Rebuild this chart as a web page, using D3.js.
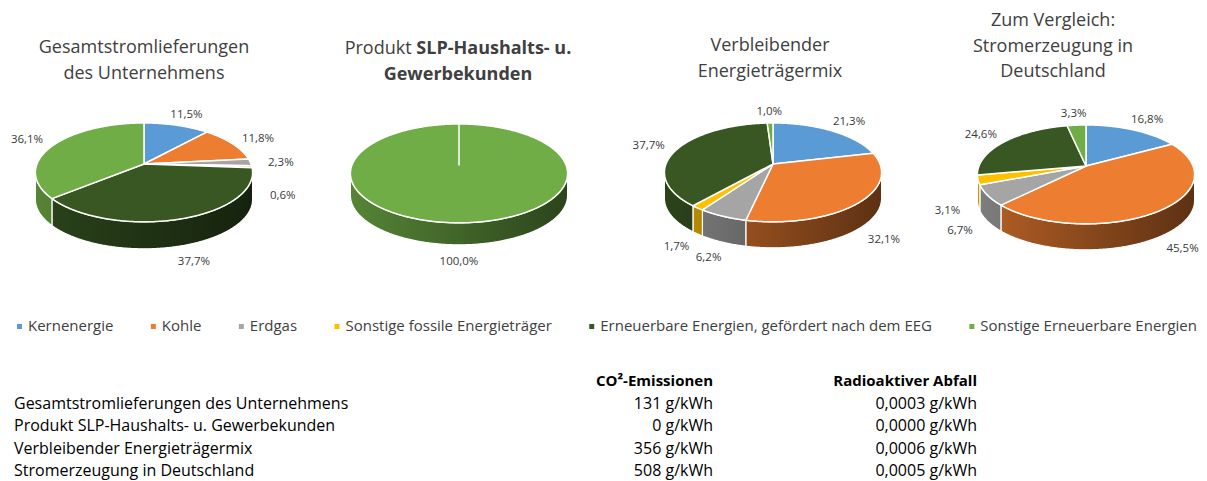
<!DOCTYPE html>
<html>
<head>
<meta charset="utf-8">
<script src="https://cdn.jsdelivr.net/npm/d3@7"></script>
<style>
  body { margin: 0; background: #fff; }
  text { font-family: "Open Sans", "Noto Sans", sans-serif; }
</style>
</head>
<body>
<svg id="chart" width="1207" height="481"></svg>
<script>
// categories + colours (Excel office palette)
var categories = ["Kernenergie", "Kohle", "Erdgas", "Sonstige fossile Energieträger",
                  "Erneuerbare Energien, gefördert nach dem EEG", "Sonstige Erneuerbare Energien"];
var catColors = ["#5B9BD5", "#ED7D31", "#A5A5A5", "#FFC000", "#385723", "#70AD47"];

// shares in percent, same order as categories
var gesamt      = [11.5, 11.8, 2.3, 0.6, 37.7, 36.1];
var slp         = [0, 0, 0, 0, 0, 100.0];
var verbleibend = [21.3, 32.1, 6.2, 1.7, 37.7, 1.0];
var deutschland = [16.8, 45.5, 6.7, 3.1, 24.6, 3.3];

var chartTitles = [
  [["Gesamtstromlieferungen"], ["des Unternehmens"]],
  [["Produkt ", "SLP-Haushalts- u."], ["", "Gewerbekunden"]],
  [["Verbleibender"], ["Energieträgermix"]],
  [["Zum Vergleich:"], ["Stromerzeugung in"], ["Deutschland"]]
];

// table
var tableHeader = ["CO²-Emissionen", "Radioaktiver Abfall"];
var tableRows = ["Gesamtstromlieferungen des Unternehmens", "Produkt SLP-Haushalts- u. Gewerbekunden",
                 "Verbleibender Energieträgermix", "Stromerzeugung in Deutschland"];
var co2 = ["131 g/kWh", "0 g/kWh", "356 g/kWh", "508 g/kWh"];
var abfall = ["0,0003 g/kWh", "0,0000 g/kWh", "0,0006 g/kWh", "0,0005 g/kWh"];

var series = [gesamt, slp, verbleibend, deutschland];

// layout of the four pies (not data)
var layout = [
  {cx: 144, cy: 164, depth: 27, titleX: 144, titleY: 53},
  {cx: 459, cy: 165, depth: 22, titleX: 458, titleY: 54},
  {cx: 773, cy: 164, depth: 26, titleX: 770, titleY: 51},
  {cx: 1086, cy: 166, depth: 26, titleX: 1053, titleY: 26}
];
var rx = 107, ry = 48, persp = 0.17;

var svg = d3.select("#chart");
var defs = svg.append("defs");
var fmt = function(v) { return d3.format(".1f")(v).replace(".", ",") + "%"; };

var pie = d3.pie().sort(null).value(function(d) { return d; });

// perspective projection of a point of the (unit) pie disc
function project(c, theta, r) {
  var u = r * Math.sin(theta), v = -r * Math.cos(theta);
  var f = 1 / (1 - persp * v);
  return [c.cx + rx * u * f, c.cy + ry * v * f, v];
}

var line = d3.line();
var wallStart = Math.acos(-persp), wallEnd = 2 * Math.PI - Math.acos(-persp);

function arcPoints(c, a0, a1, dy) {
  var n = Math.max(2, Math.ceil((a1 - a0) / 0.01));
  return d3.range(n + 1).map(function(i) {
    var p = project(c, a0 + (a1 - a0) * i / n, 1);
    return [p[0], p[1] + (dy || 0)];
  });
}

series.forEach(function(values, ci) {
  var c = layout[ci];
  var g = svg.append("g").attr("class", "pie3d");
  var arcs = pie(values);

  // gradients for the side walls
  catColors.forEach(function(col, k) {
    var grad = defs.append("linearGradient")
      .attr("id", "wall" + ci + "_" + k)
      .attr("gradientUnits", "userSpaceOnUse")
      .attr("x1", c.cx - rx).attr("x2", c.cx + rx).attr("y1", 0).attr("y2", 0);
    grad.append("stop").attr("offset", "0%").attr("stop-color", d3.color(col).darker(0.75));
    grad.append("stop").attr("offset", "100%").attr("stop-color", d3.color(col).darker(2.6));
  });

  // walls
  arcs.forEach(function(a, k) {
    if (a.value <= 0) return;
    var s = Math.max(a.startAngle, wallStart), e = Math.min(a.endAngle, wallEnd);
    if (e <= s) return;
    var top = arcPoints(c, s, e, 0);
    var bottom = arcPoints(c, s, e, c.depth).reverse();
    g.append("path")
      .attr("d", line(top.concat(bottom)) + "Z")
      .attr("fill", "url(#wall" + ci + "_" + k + ")")
      .attr("stroke", "#fff").attr("stroke-width", 1.2).attr("stroke-linejoin", "round");
  });

  // top faces
  arcs.forEach(function(a, k) {
    if (a.value <= 0) return;
    var pts = [[c.cx, c.cy]].concat(arcPoints(c, a.startAngle, a.endAngle, 0));
    g.append("path")
      .attr("d", line(pts) + "Z")
      .attr("fill", catColors[k])
      .attr("stroke", "#fff").attr("stroke-width", 1.5).attr("stroke-linejoin", "round");
  });

  // data labels
  arcs.forEach(function(a, k) {
    if (a.value <= 0) return;
    var m = (a.startAngle + a.endAngle) / 2;
    var p = project(c, m, 1.1);
    var x = p[0] + Math.sin(m) * 20;
    var y = p[1] - Math.cos(m) * 9 + 4;
    if (p[2] > 0) y += c.depth;
    g.append("text")
      .attr("x", x).attr("y", y)
      .attr("text-anchor", "middle")
      .attr("font-size", "11.5px")
      .attr("fill", "#3a3a3a")
      .text(fmt(a.value));
  });

  // title
  var t = svg.append("g").attr("class", "title");
  chartTitles[ci].forEach(function(parts, li) {
    var tx = t.append("text")
      .attr("x", c.titleX).attr("y", c.titleY + li * 25.5)
      .attr("text-anchor", "middle")
      .attr("font-size", "18px")
      .attr("fill", "#404040");
    parts.forEach(function(p, pi) {
      if (!p) return;
      tx.append("tspan").attr("font-weight", (ci === 1 && (pi === 1)) ? 700 : 400).text(p);
    });
  });
});

// legend
var legend = svg.append("g").attr("class", "legend");
var items = legend.selectAll("g").data(categories).enter().append("g");
items.append("rect").attr("width", 5).attr("height", 5).attr("y", 324)
  .attr("fill", function(d, i) { return catColors[i]; });
items.append("text").attr("x", 11).attr("y", 331)
  .attr("font-size", "15px").attr("fill", "#404040")
  .text(function(d) { return d; });
var widths = [];
items.each(function() { widths.push(d3.select(this).select("text").node().getComputedTextLength() + 11); });
var legendLeft = 17, legendRight = 1197;
var gap = (legendRight - legendLeft - d3.sum(widths)) / (widths.length - 1);
var xpos = 0;
items.attr("transform", function(d, i) {
  var x = legendLeft + xpos;
  xpos += widths[i] + gap;
  return "translate(" + x + ",0)";
});

// table
var table = svg.append("g").attr("class", "table");
var colX = [713, 977];
tableHeader.forEach(function(h, j) {
  table.append("text").attr("x", colX[j]).attr("y", 386)
    .attr("text-anchor", "end").attr("font-size", "15px").attr("font-weight", 700)
    .attr("fill", "#000").text(h);
});
var rowY = d3.scalePoint().domain(tableRows).range([409, 476]);
tableRows.forEach(function(r, i) {
  var y = rowY(r);
  table.append("text").attr("x", 14).attr("y", y).attr("font-size", "16px").attr("fill", "#000").text(r);
  table.append("text").attr("x", colX[0]).attr("y", y).attr("text-anchor", "end")
    .attr("font-size", "16px").attr("fill", "#000").text(co2[i]);
  table.append("text").attr("x", colX[1]).attr("y", y).attr("text-anchor", "end")
    .attr("font-size", "16px").attr("fill", "#000").text(abfall[i]);
});
</script>
</body>
</html>
